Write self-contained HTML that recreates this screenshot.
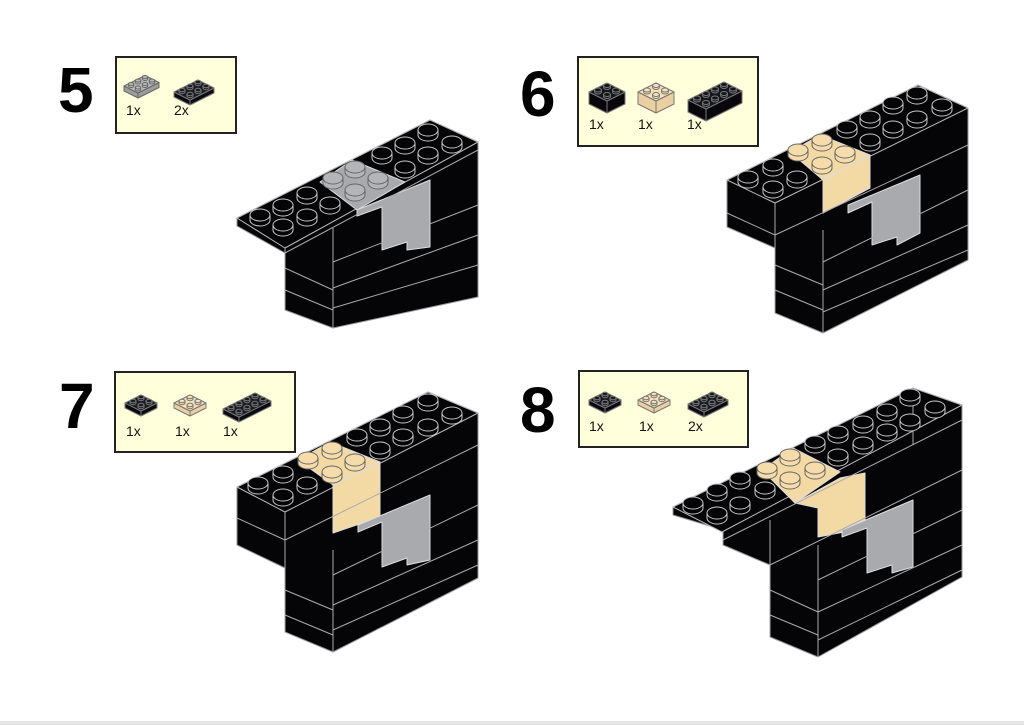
<!DOCTYPE html>
<html><head><meta charset="utf-8"><style>
html,body{margin:0;padding:0;background:#fff;}
body{width:1024px;height:725px;position:relative;overflow:hidden;font-family:"Liberation Sans",sans-serif;}
.num{position:absolute;font-weight:bold;font-size:64px;color:#000;line-height:1;}
.box{position:absolute;background:#ffffdc;border:2px solid #222;box-sizing:border-box;}
.q{position:absolute;font-size:14px;color:#111;}
svg{position:absolute;left:0;top:0;}
</style></head><body>
<div class="num" style="left:58px;top:58px">5</div>
<div class="num" style="left:520px;top:62px">6</div>
<div class="num" style="left:59px;top:374px">7</div>
<div class="num" style="left:520px;top:378px">8</div>
<div class="box" style="left:115px;top:56px;width:122px;height:78px"></div>
<div class="box" style="left:577px;top:56px;width:182px;height:91px"></div>
<div class="box" style="left:114px;top:371px;width:182px;height:82px"></div>
<div class="box" style="left:578px;top:370px;width:171px;height:78px"></div>
<div class="q" style="left:126px;top:102px">1x</div><div class="q" style="left:174px;top:102px">2x</div>
<div class="q" style="left:589px;top:116px">1x</div><div class="q" style="left:638px;top:116px">1x</div><div class="q" style="left:687px;top:116px">1x</div>
<div class="q" style="left:126px;top:423px">1x</div><div class="q" style="left:175px;top:423px">1x</div><div class="q" style="left:223px;top:423px">1x</div>
<div class="q" style="left:589px;top:418px">1x</div><div class="q" style="left:639px;top:418px">1x</div><div class="q" style="left:688px;top:418px">2x</div>
<svg id="s" width="1024" height="725" xmlns="http://www.w3.org/2000/svg"></svg>
<div style="position:absolute;left:0;top:721px;width:1024px;height:4px;background:#e6e6e6"></div>
<script>
var S=document.getElementById('s'),h='';
function poly(p,f,st){h+='<polygon points="'+p.map(function(a){return a.join(',')}).join(' ')+'" fill="'+f+'" stroke="'+(st||'#bbb')+'" stroke-width="1" stroke-linejoin="round"/>';}
function line(a,b){h+='<line x1="'+a[0]+'" y1="'+a[1]+'" x2="'+b[0]+'" y2="'+b[1]+'" stroke="#aaa" stroke-width="1"/>';}
function stud(x,y,f,rx,ry,ht,st){rx=rx||10;ry=ry||6;ht=ht||5;st=st||'#aaa';
 h+='<path d="M'+(x-rx)+','+y+' L'+(x-rx)+','+(y+ht)+' A'+rx+','+ry+' 0 0 0 '+(x+rx)+','+(y+ht)+' L'+(x+rx)+','+y+' Z" fill="'+f+'" stroke="'+st+'" stroke-width="1"/>';
 h+='<ellipse cx="'+x+'" cy="'+y+'" rx="'+rx+'" ry="'+ry+'" fill="'+f+'" stroke="'+st+'" stroke-width="1"/>';}
function ad(a,b){return [a[0]+b[0],a[1]+b[1]];}
function sc(a,k){return [a[0]*k,a[1]*k];}
function mini(o,L,D,H,s,top,side,st){var u=[s,-s*.5],v=[s,s*.5];
 var A=o,B=ad(o,sc(u,L)),C=ad(B,sc(v,D)),Dp=ad(o,sc(v,D)),hh=[0,H];
 poly([A,Dp,ad(Dp,hh),ad(A,hh)],side,st);poly([Dp,C,ad(C,hh),ad(Dp,hh)],side,st);poly([A,B,C,Dp],top,st);
 for(var i=0;i<L;i++)for(var j=D-1;j>=0;j--){var p=ad(ad(o,sc(u,i+.5)),sc(v,j+.5));stud(p[0],p[1]-2,top,s*.38,s*.22,2,st);}
}
var BK='#050508',TN='#f3d9a4',GR='#a9aaad';
mini([124,86],3,2,5,7,'#b9b9b9','#9c9c9c','#666');mini([174,92],3,2,5,8,'#1a1a22','#0a0a10','#777');
mini([589,92],2,2,12,9,'#15151c','#08080c','#777');mini([638,92],2,2,12,9,'#f5e0b8','#ead0a0','#777');mini([688,100],4,2,12,9,'#15151c','#08080c','#777');
mini([125,403],2,2,5,8,'#1a1a22','#0a0a10','#777');mini([174,403],2,2,5,8,'#f5e0b8','#ead0a0','#777');mini([223,409],4,2,5,8,'#1a1a22','#0a0a10','#777');
mini([589,400],2,2,5,8,'#1a1a22','#0a0a10','#777');mini([638,400],2,2,5,8,'#f5e0b8','#ead0a0','#777');mini([688,404],3,2,5,8,'#1a1a22','#0a0a10','#777');

function model(sil,top,lines,patches,studs){
 poly(sil,BK,'#999');poly(top,BK,'#bbb');
 patches.forEach(function(p){poly(p[0],p[1],'#ddd');});
 lines.forEach(function(l){line(l[0],l[1]);});
 studs.forEach(function(s){var f=s[2]||BK;
   if(f==BK) stud(s[0],s[1],BK,10,6,5,'#c8c8c8');
   else stud(s[0],s[1],f==GR?'#b4b5b8':'#f5dcaa',10,6,5,'#666');});
}
model([[237,218],[430,120],[478,142],[478,297],[333,328],[285,310],[285,253],[237,226]],
 [[237,218],[430,120],[478,142],[285,248]],
 [[[285,248],[285,310]],[[333,228],[333,328]],[[285,253],[478,150]],[[333,262],[478,205]],[[333,288],[478,235]],[[333,308],[478,265]],[[285,268],[333,290]],[[285,290],[333,310]]],
 [[[[320,182],[352,160],[405,182],[357,210]],GR],[[[357,210],[430,180],[430,247],[407,250],[407,242],[382,250],[382,207],[357,216]],GR]],
 [[260,215],[283,205],[283,225],[307,193],[307,215],[330,203],[333,178,GR],[355,167,GR],[355,190,GR],[378,178,GR],[382,153],[405,143],[405,167],[428,130],[428,153],[452,142]]);
model([[727,180],[918,85],[968,108],[968,260],[823,333],[775,313],[775,248],[727,227]],
 [[727,180],[918,85],[968,108],[775,203]],
 [[[775,203],[775,313]],[[823,230],[823,333]],[[727,213],[775,235]],[[775,235],[968,145]],[[823,262],[968,190]],[[823,290],[968,225]],[[775,265],[823,285]],[[775,290],[823,310]],[[823,312],[968,250]]],
 [[[[790,152],[820,135],[870,155],[823,180]],TN],[[[823,180],[870,155],[870,188],[823,213]],TN],[[[848,205],[920,175],[920,233],[897,245],[897,237],[872,245],[872,202],[848,213]],GR]],
 [[748,177],[773,165],[773,187],[797,177],[798,150,TN],[822,140,TN],[822,163,TN],[845,152,TN],[847,127],[870,117],[870,140],[893,103],[893,127],[917,93],[917,117],[942,105]]);
model([[237,487],[428,392],[478,413],[478,578],[333,652],[285,632],[285,568],[237,545]],
 [[237,487],[428,392],[478,413],[285,512]],
 [[[285,512],[285,632]],[[333,550],[333,652]],[[237,518],[285,540]],[[285,540],[478,445]],[[333,575],[478,505]],[[333,605],[478,540]],[[285,590],[333,610]],[[285,615],[333,635]],[[333,630],[478,565]]],
 [[[[298,460],[330,442],[380,462],[333,485]],TN],[[[333,485],[380,462],[380,517],[333,533]],TN],[[[358,525],[430,495],[430,560],[407,565],[407,558],[382,567],[382,522],[358,532]],GR]],
 [[258,483],[283,472],[283,495],[307,483],[308,458,TN],[332,448,TN],[332,472,TN],[355,460,TN],[357,435],[380,425],[380,448],[403,412],[403,435],[428,400],[428,425],[452,413]]);
model([[673,507],[913,388],[962,405],[962,577],[818,657],[770,637],[770,565],[723,545],[723,530],[673,515]],
 [[673,507],[913,388],[962,405],[722,532]],
 [[[723,532],[723,545]],[[770,520],[770,637]],[[818,545],[818,657]],[[723,540],[962,420]],[[770,565],[962,470]],[[818,580],[962,510]],[[818,612],[962,545]],[[770,590],[818,612]],[[770,615],[818,635]],[[818,640],[962,570]],[[913,395],[913,445]]],
 [[[[762,470],[793,448],[840,472],[795,503]],TN],[[[795,503],[840,478],[865,473],[865,528],[818,537],[818,508]],TN],[[[842,530],[913,500],[913,567],[892,573],[892,565],[867,573],[867,528],[842,537]],GR]],
 [[693,503],[717,490],[717,513],[740,478],[740,503],[765,488],[767,468,TN],[790,455,TN],[790,478,TN],[815,468,TN],[815,442],[838,432],[838,455],[863,422],[863,443],[887,410],[887,430],[910,395],[910,420],[935,407]]);
S.innerHTML=h;
</script>
</body></html>
